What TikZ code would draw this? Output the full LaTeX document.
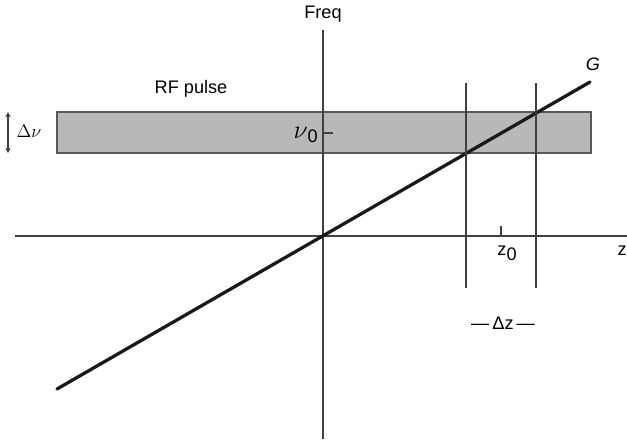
\documentclass[tikz,border=0pt]{standalone}
\usepackage{fix-cm}
\usepackage{fontspec}
\setmainfont{Liberation Sans}
\usetikzlibrary{arrows.meta}

\begin{document}
\begin{tikzpicture}[
    x=0.03cm, y=-0.03cm,
    every node/.style={font=\fontsize{15.5}{18}\selectfont, inner sep=0pt},
    axis/.style={draw=black!75, line width=1.6pt},
    cut/.style={draw=black!75, line width=1.2pt},
    slope/.style={draw=black!90, line width=2.8pt, line cap=round},
    band/.style={draw=black!65, fill=black!28, line width=1pt}
]
\useasboundingbox (0,0) rectangle (627,439);

% RF pulse band
\coordinate (bandnw) at (57,112);
\coordinate (bandse) at (591,153);
\draw[band] (bandnw) rectangle (bandse);
\node (rf) at (191,89) {RF pulse};

% Bandwidth
\coordinate (bwtop) at (8,112);
\coordinate (bwbot) at (8,153);
\draw[cut, {Stealth[length=4.5pt,width=4.5pt]}-{Stealth[length=4.5pt,width=4.5pt]}] (bwtop) -- (bwbot);
\node (bw) at (29,131) {$\Delta\nu$};

% Axes
\coordinate (zleft) at (15,236);
\coordinate (zright) at (627,236);
\coordinate (fbot) at (323,439);
\coordinate (ftop) at (323,30);
\draw[axis] (zleft) -- (zright);
\draw[axis] (fbot) -- (ftop);
\node (freq) at (323,14) {Freq};
\node[anchor=east] (zlab) at (627,251) {z};

% Centre frequency
\coordinate (nutick) at (323,133);
\coordinate (nutickend) at (333,133);
\draw[cut] (nutick) -- (nutickend);
\node[anchor=east] (nulab) at (318,135) {{\fontsize{22}{24}\selectfont$\nu$}\raisebox{-0.5ex}{0}};

% Gradient
\coordinate (gstart) at (57,389);
\coordinate (gend) at (590,82);
\draw[slope] (gstart) -- (gend);
\node (glab) at (593,64) {\textit{G}};

% Slice limits
\coordinate (s1top) at (466,83);
\coordinate (s1bot) at (466,288);
\coordinate (s2top) at (536,83);
\coordinate (s2bot) at (536,288);
\draw[cut] (s1top) -- (s1bot);
\draw[cut] (s2top) -- (s2bot);

% Slice centre
\coordinate (z0tick) at (501,226);
\coordinate (z0base) at (501,236);
\draw[cut] (z0tick) -- (z0base);
\node (z0lab) at (507,253) {z\raisebox{-0.5ex}{0}};

% Slice thickness
\node (dz) at (503,323) {—\,Δz\,—};

\end{tikzpicture}
\end{document}
